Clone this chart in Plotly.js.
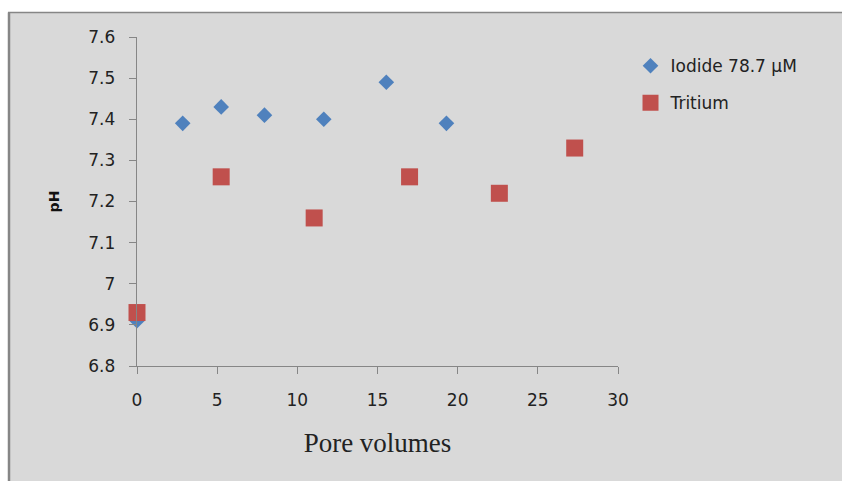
<!DOCTYPE html>
<html>
<head>
<meta charset="utf-8">
<script src="https://cdn.plot.ly/plotly-3.0.1.min.js"></script>
<style>html,body{margin:0;padding:0;background:#ffffff;}#chart{width:842px;height:481px;}</style>
</head>
<body>
<div id="chart"></div>
<script>
const iodideX = [0, 2.85, 5.25, 7.95, 11.65, 15.55, 19.3];
const iodideY = [6.91, 7.39, 7.43, 7.41, 7.40, 7.49, 7.39];
const tritiumX = [0, 5.25, 11.05, 17.0, 22.6, 27.3];
const tritiumY = [6.93, 7.26, 7.16, 7.26, 7.22, 7.33];
const xTicks = [0, 5, 10, 15, 20, 25, 30];
const yTicks = [6.8, 6.9, 7, 7.1, 7.2, 7.3, 7.4, 7.5, 7.6];
const yTickText = ['6.8', '6.9', '7', '7.1', '7.2', '7.3', '7.4', '7.5', '7.6'];

const axisColor = '#868686';
const L = 137, R = 224, T = 37, B = 115;
const PW = 842 - L - R, PH = 481 - T - B;
const traces = [
  {x: iodideX, y: iodideY, name: 'Iodide 78.7 \u00b5M', mode: 'markers', type: 'scatter', legendgroup: 'a',
   marker: {symbol: 'diamond', size: 12, color: '#4f81bd'}, cliponaxis: false},
  {x: tritiumX, y: tritiumY, name: 'Tritium', mode: 'markers', type: 'scatter', legendgroup: 'b',
   marker: {symbol: 'square', size: 17, color: '#c0504d'}, cliponaxis: false}
];
const sans = 'DejaVu Sans, Arial, sans-serif';
const layout = {
  width: 842, height: 481,
  paper_bgcolor: '#ffffff', plot_bgcolor: 'rgba(0,0,0,0)',
  margin: {l: L, r: R, t: T, b: B},
  font: {family: sans, size: 17, color: '#222'},
  xaxis: {range: [0, 30], tickvals: xTicks, showgrid: false, zeroline: false,
    showline: true, linecolor: axisColor, linewidth: 1.3, ticks: 'outside', ticklen: 7, tickcolor: axisColor,
    tickfont: {family: sans, size: 17, color: '#222'}, ticklabelstandoff: 11,
    title: {text: 'Pore volumes', font: {family: 'Liberation Serif, Times New Roman, serif', size: 27, color: '#222'}, standoff: 24}},
  yaxis: {range: [6.8, 7.6], tickvals: yTicks, ticktext: yTickText, showgrid: false, zeroline: false,
    showline: true, linecolor: axisColor, linewidth: 1.3, ticks: 'outside', ticklen: 7, tickcolor: axisColor,
    tickfont: {family: sans, size: 17, color: '#222'}, ticklabelstandoff: 10,
    title: {text: '<b>pH</b>', font: {family: sans, size: 14, color: '#111'}, standoff: 25}},
  legend: {x: 1.026, xanchor: 'left', y: 0.966, yanchor: 'top', bgcolor: 'rgba(0,0,0,0)',
    font: {family: sans, size: 17, color: '#222'}, traceorder: 'grouped', tracegroupgap: 12, itemwidth: 30},
  showlegend: true,
  shapes: [
    {type: 'rect', xref: 'paper', yref: 'paper', layer: 'below',
     x0: (9 - L) / PW, x1: (860 - L) / PW, y0: -(B + 20) / PH, y1: 1 + (T - 12.5) / PH,
     fillcolor: '#d9d9d9', line: {width: 0}},
    {type: 'line', xref: 'paper', yref: 'paper', layer: 'below',
     x0: (9 - L) / PW, x1: (9 - L) / PW, y0: -(B + 20) / PH, y1: 1 + (T - 12.5) / PH,
     line: {color: '#868686', width: 2.5}},
    {type: 'line', xref: 'paper', yref: 'paper', layer: 'below',
     x0: (8 - L) / PW, x1: (860 - L) / PW, y0: 1 + (T - 12.5) / PH, y1: 1 + (T - 12.5) / PH,
     line: {color: '#868686', width: 1.5}}
  ]
};
Plotly.newPlot('chart', traces, layout, {displayModeBar: false, staticPlot: true});
</script>
</body>
</html>
